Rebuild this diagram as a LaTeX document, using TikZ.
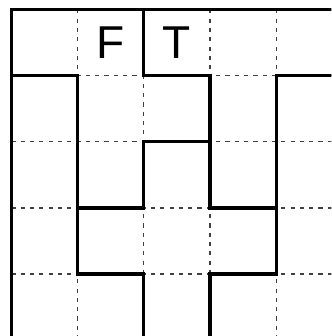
\documentclass[tikz,border=0pt]{standalone}
\usepackage{fontspec}
\setmainfont{Liberation Sans}

\begin{document}
\begin{tikzpicture}[x=1cm, y=-1cm,
    wall/.style={line width=1.4pt, draw=black, line cap=rect},
    guide/.style={line width=0.55pt, draw=black!75, dash pattern=on 1.8pt off 2.2pt},
    letter/.style={font=\fontsize{19.8}{24}\selectfont, inner sep=0pt}]
    \useasboundingbox (-0.171,-0.14) rectangle (4.835,4.935);
    \clip (-0.171,-0.14) rectangle (4.835,4.935);
    % dashed grid
    \foreach \i in {1,...,4} \draw[guide] (\i,0) -- (\i,5.2);
    \foreach \j in {1,...,4} \draw[guide] (0,\j) -- (5.2,\j);
    % walls
    \draw[wall] (5.2,0) -- (0,0) -- (0,5.2);
    \draw[wall] (0,1) -- (1,1) -- (1,4) -- (2,4) -- (2,5.2);
    \draw[wall] (2,0) -- (2,1) -- (3,1) -- (3,3) -- (4,3);
    \draw[wall] (5.2,1) -- (4,1) -- (4,4) -- (3,4) -- (3,5.2);
    \draw[wall] (3,2) -- (2,2) -- (2,3) -- (1,3);
    % labels
    \node[letter] (f) at (1.5,0.5) {F};
    \node[letter] (t) at (2.5,0.5) {T};
\end{tikzpicture}
\end{document}
